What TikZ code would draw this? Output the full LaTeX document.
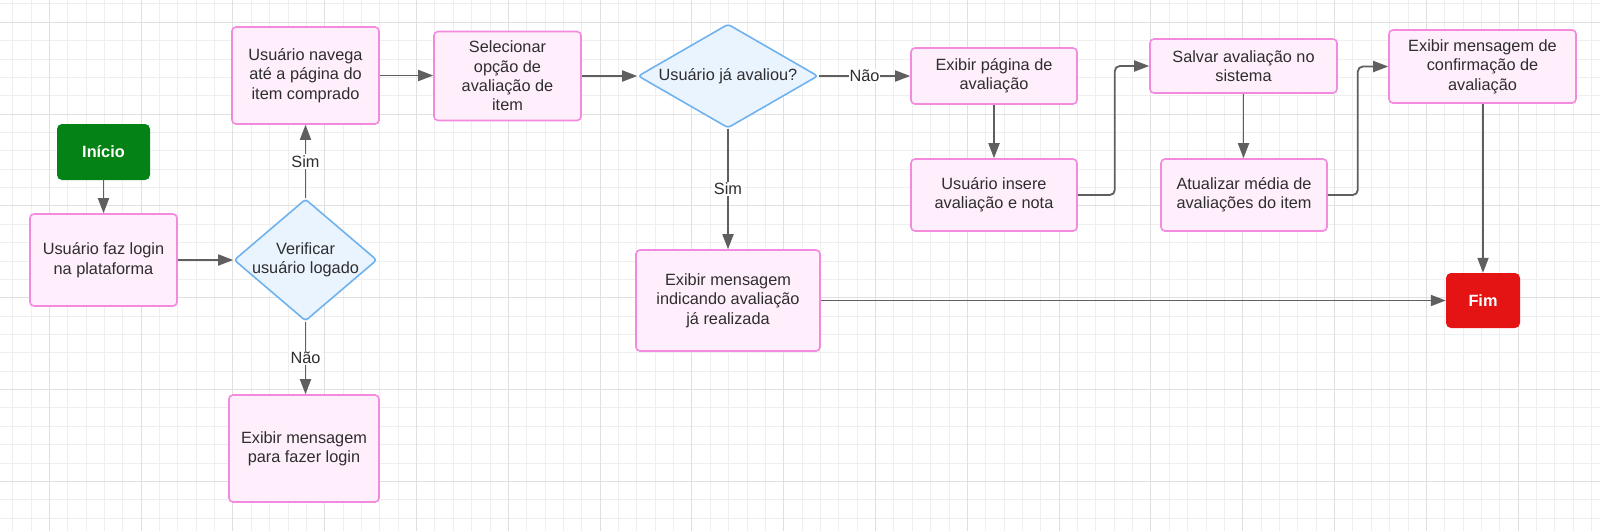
\documentclass[tikz,border=0pt]{standalone}
\usepackage{fontspec}
\setmainfont{Liberation Sans}
\usetikzlibrary{shapes.geometric,arrows.meta}
\definecolor{boxfill}{HTML}{FFEEFB}
\definecolor{boxdraw}{HTML}{F28ADE}
\definecolor{diafill}{HTML}{EAF4FE}
\definecolor{diadraw}{HTML}{70B2EE}
\definecolor{startgreen}{HTML}{058216}
\definecolor{endred}{HTML}{E51414}
\definecolor{linegray}{HTML}{5F5F5F}
\definecolor{txtgray}{HTML}{2E2E2E}
\definecolor{gridminor}{HTML}{EFEFEF}
\definecolor{gridmajor}{HTML}{E0E0E0}
\begin{document}
\begin{tikzpicture}[x=1pt,y=-1pt,
  font=\fontsize{16.3}{19.4}\selectfont,
  proc/.style={rectangle, rounded corners=4pt, draw=boxdraw, fill=boxfill, line width=1.6pt, text=txtgray, align=center, inner sep=0pt},
  dia/.style={diamond, rounded corners=3pt, draw=diadraw, fill=diafill, line width=1.6pt, inner sep=0pt},
  dtext/.style={text=txtgray, align=center, inner sep=0pt},
  term/.style={rectangle, rounded corners=5pt, text=white, font=\fontsize{16.3}{19.4}\selectfont\bfseries, inner sep=0pt},
  arr/.style={draw=linegray, line width=1.8pt, -{Triangle[length=15pt,width=11pt]}},
  lbl/.style={fill=white, text=txtgray, inner sep=1.5pt},
  gminor/.style={draw=gridminor, line width=0.9pt},
  gmajor/.style={draw=gridmajor, line width=1pt}
]
\useasboundingbox[fill=white] (0,0) rectangle (1600,531);
% grid
\foreach \i in {0,...,86} {\draw[gminor] ({12.6+\i*18.36},0) -- ({12.6+\i*18.36},531);}
\foreach \j in {0,...,28} {\draw[gminor] (0,{3.94+\j*18.36}) -- (1600,{3.94+\j*18.36});}
\foreach \i in {0,...,16} {\draw[gmajor] ({49.3+\i*91.8},0) -- ({49.3+\i*91.8},531);}
\foreach \j in {0,...,5} {\draw[gmajor] (0,{22.3+\j*91.8}) -- (1600,{22.3+\j*91.8});}

% nodes
\node[term, fill=startgreen, minimum width=93pt, minimum height=56pt] (inicio) at (103.5,152) {Início};
\node[proc, minimum width=147pt, minimum height=92pt] (login) at (103.5,260) {Usuário faz login\\na plataforma};
\node[dia, minimum width=143pt, minimum height=122pt] (verif) at (305.5,260) {};
\node[dtext] at (verif) {Verificar\\usuário logado};
\node[proc, minimum width=147pt, minimum height=97pt] (navega) at (305.5,75.5) {Usuário navega\\até a página do\\item comprado};
\node[proc, minimum width=150pt, minimum height=107pt] (msglogin) at (304,448.5) {Exibir mensagem\\para fazer login};
\node[proc, minimum width=147pt, minimum height=89pt] (selec) at (507.5,76) {Selecionar\\opção de\\avaliação de\\item};
\node[dia, minimum width=180pt, minimum height=104pt] (avaliou) at (728,76) {};
\node[dtext] at (avaliou) {Usuário já avaliou?};
\node[proc, minimum width=184pt, minimum height=101pt] (jafeita) at (728,300.5) {Exibir mensagem\\indicando avaliação\\já realizada};
\node[proc, minimum width=166pt, minimum height=56pt] (pagina) at (994,76) {Exibir página de\\avaliação};
\node[proc, minimum width=166pt, minimum height=72pt] (insere) at (994,195) {Usuário insere\\avaliação e nota};
\node[proc, minimum width=187pt, minimum height=54pt] (salvar) at (1243.5,66) {Salvar avaliação no\\sistema};
\node[proc, minimum width=166pt, minimum height=72pt] (atual) at (1244,195) {Atualizar média de\\avaliações do item};
\node[proc, minimum width=187pt, minimum height=73pt] (confirm) at (1482.5,66.5) {Exibir mensagem de\\confirmação de\\avaliação};
\node[term, fill=endred, minimum width=74pt, minimum height=55pt] (fim) at (1483,300.5) {Fim};

% connectors
\draw[arr] (inicio.south) -- (login.north);
\draw[arr] (login.east) -- (verif.west);
\draw[arr] (verif.north) -- node[lbl] {Sim} (navega.south);
\draw[arr] (verif.south) -- node[lbl] {Não} (verif.south |- msglogin.north);
\draw[arr] (navega.east) -- (navega.east -| selec.west);
\draw[arr] (selec.east) -- (avaliou.west);
\draw[arr] (avaliou.east) -- node[lbl, inner xsep=0.5pt] {Não} (pagina.west);
\draw[arr] (avaliou.south) -- node[lbl] {Sim} (jafeita.north);
\draw[arr] (pagina.south) -- (insere.north);
\draw[arr, rounded corners=5pt] (insere.east) -- ++(37,0) |- (salvar.west);
\draw[arr] (salvar.south) -- (salvar.south |- atual.north);
\draw[arr, rounded corners=5pt] (atual.east) -- ++(30,0) |- (confirm.west);
\draw[arr] (fim.north |- confirm.south) -- (fim.north);
\draw[arr] (jafeita.east) -- (jafeita.east -| fim.west);
\end{tikzpicture}
\end{document}
